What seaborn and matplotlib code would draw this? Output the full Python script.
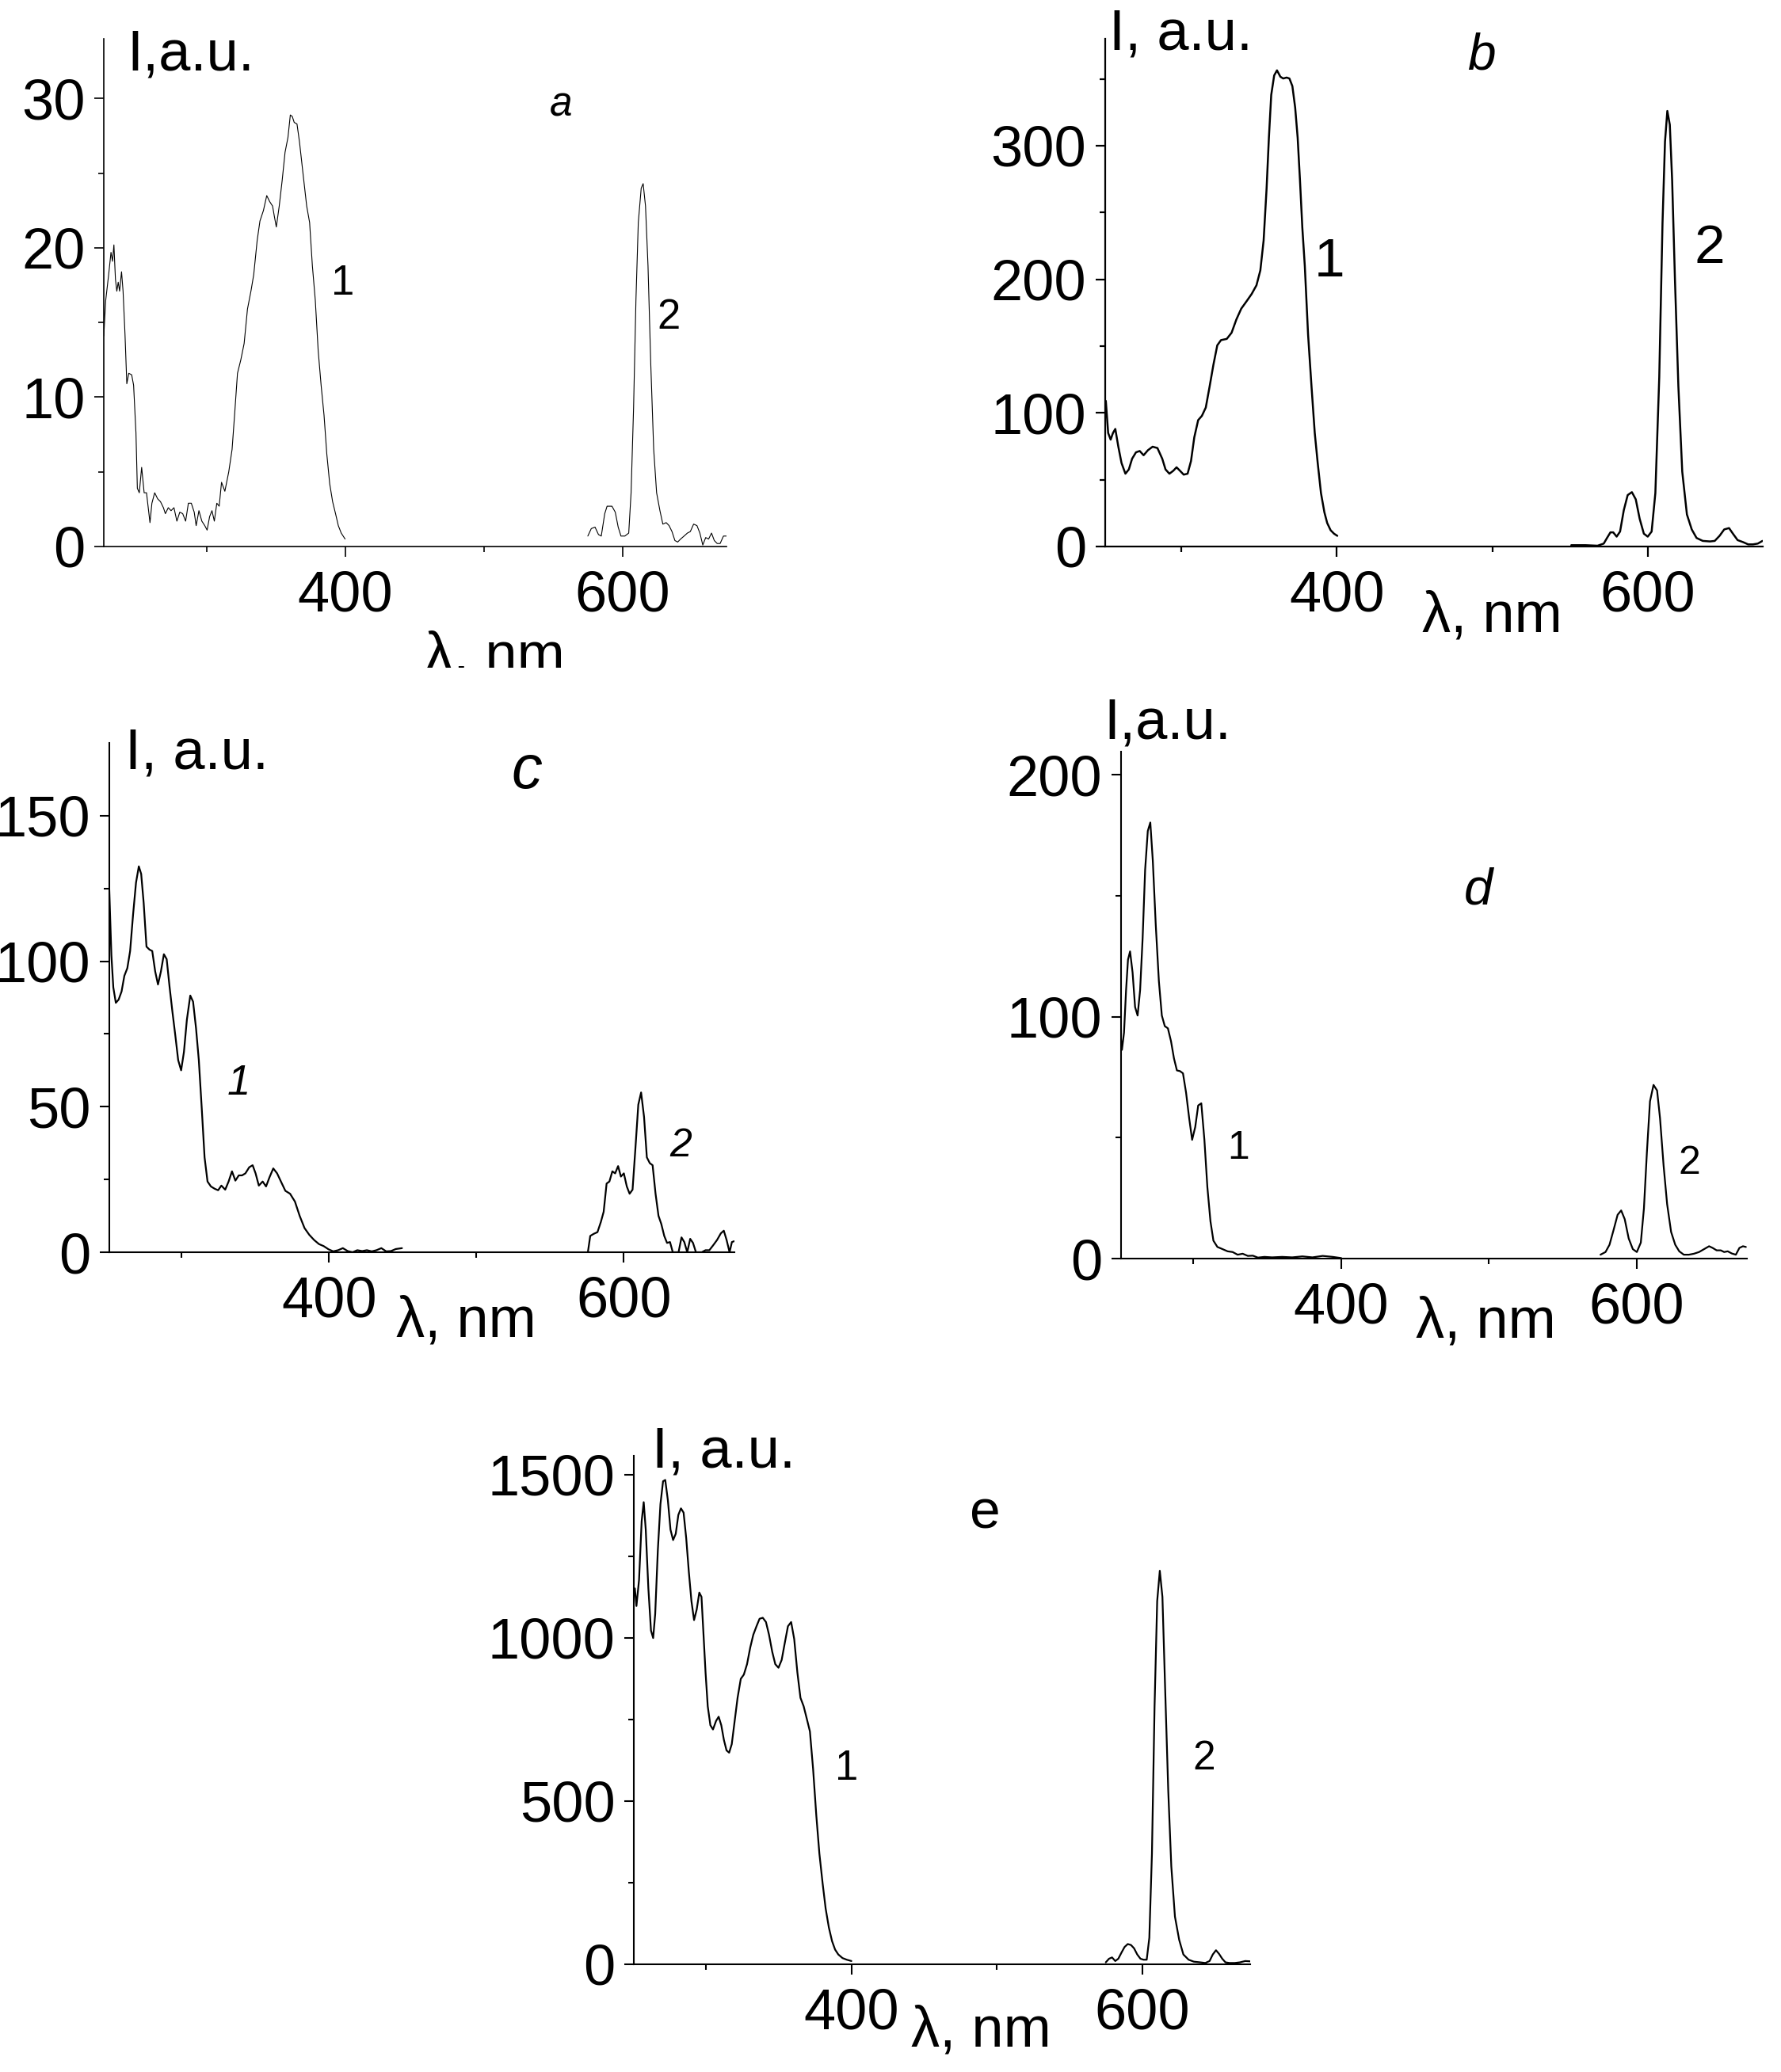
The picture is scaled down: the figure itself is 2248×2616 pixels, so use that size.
import matplotlib
matplotlib.use("Agg")
import matplotlib.pyplot as plt
import seaborn as sns
from matplotlib.transforms import Bbox, TransformedBbox

# ---- data (wavelength in nm, intensity in a.u.) ----
# panel a
a1_wl = [226, 227.4, 229.5, 231.2, 232.3, 233.3, 234.4, 235.4, 236.4, 237.4, 238.8, 239.9, 241.3, 242.6,
         244.0, 246.1, 247.5, 249.2, 250.2, 251.6, 253.3, 255.1, 256.8, 259.3, 260.7, 262.7, 264.8, 266.9,
         269.0, 270.4, 272.5, 274.5, 276.6, 278.7, 280.8, 282.9, 285.0, 287.0, 289.1, 291.2, 292.6, 294.6,
         296.7, 298.8, 300.5, 302.3, 304.0, 305.7, 307.5, 309.2, 310.9, 313.3, 316.1, 318.5, 320.3, 322.4,
         324.8, 327.2, 329.6, 332.1, 334.1, 336.6, 338.6, 341.1, 343.5, 345.6, 347.7, 349.0, 350.4, 352.5,
         354.6, 356.7, 358.8, 360.5, 361.9, 363.3, 365.3, 367.1, 369.5, 372.3, 374.4, 376.4, 378.5, 380.6,
         382.7, 384.8, 386.8, 388.9, 391.0, 393.1, 395.1, 397.2, 400.0]
a1_int = [14.1, 16.5, 18.2, 19.7, 19.1, 20.2, 17.9, 17.1, 17.7, 17.1, 18.4, 17.1, 14.2, 10.9,
          11.6, 11.5, 10.8, 7.6, 3.9, 3.6, 5.3, 3.6, 3.6, 1.6, 2.9, 3.6, 3.2, 3.0,
          2.6, 2.2, 2.6, 2.4, 2.6, 1.7, 2.3, 2.2, 1.7, 2.9, 2.9, 2.3, 1.4, 2.4,
          1.7, 1.4, 1.1, 2.0, 2.4, 1.7, 2.9, 2.7, 4.3, 3.7, 5.0, 6.5, 8.8, 11.6,
          12.5, 13.6, 15.9, 17.1, 18.2, 20.5, 21.8, 22.5, 23.5, 23.1, 22.8, 22.1, 21.4, 22.8,
          24.5, 26.4, 27.4, 28.9, 28.8, 28.4, 28.3, 27.1, 25.1, 22.8, 21.7, 18.8, 16.5, 13.1,
          10.8, 8.8, 6.2, 4.2, 3.0, 2.2, 1.4, 0.9, 0.5]
a2_wl = [575.0, 577.5, 580.2, 582.7, 584.7, 587.2, 588.9, 592.4, 594.8, 596.9, 598.9, 601.7, 604.5,
         606.2, 608.0, 609.7, 611.4, 613.5, 614.9, 616.6, 618.4, 620.4, 622.5, 624.6, 627.0, 629.1,
         631.5, 633.6, 635.7, 637.8, 639.8, 641.9, 644.4, 646.8, 648.9, 651.3, 653.7, 655.8, 657.9,
         660.0, 662.1, 664.2, 666.2, 668.3, 670.4, 672.8, 674.9]
a2_int = [0.7, 1.2, 1.3, 0.8, 0.7, 2.2, 2.7, 2.7, 2.3, 1.3, 0.7, 0.7, 0.9,
          3.6, 9.3, 16.5, 21.7, 24.0, 24.3, 22.8, 18.8, 12.2, 6.5, 3.6, 2.4, 1.5,
          1.6, 1.4, 1.0, 0.4, 0.3, 0.5, 0.7, 0.9, 1.0, 1.5, 1.4, 0.9, 0.1,
          0.6, 0.5, 0.9, 0.4, 0.2, 0.2, 0.7, 0.7]

# panel b
b1_wl = [251.4, 252.9, 254.5, 256.0, 257.5, 259.4, 261.5, 264.0, 266.2, 268.3, 270.8, 273.2, 275.7,
         278.5, 281.5, 284.6, 287.7, 289.8, 292.3, 294.8, 296.9, 299.1, 301.5, 304.0, 306.2, 308.3,
         310.8, 313.2, 315.7, 318.2, 320.6, 323.1, 325.5, 329.2, 332.3, 335.4, 338.5, 342.2, 345.2,
         348.3, 350.8, 352.9, 354.8, 356.3, 357.8, 359.7, 361.5, 363.7, 365.5, 367.7, 369.5, 371.4,
         373.2, 374.8, 376.3, 377.8, 379.4, 381.5, 383.7, 385.8, 387.7, 389.8, 392.0, 393.8, 396.0,
         398.2, 400.3]
b1_int = [109, 85, 80, 85, 88, 75, 62.5, 54.5, 57.7, 65.7, 70.5, 71.5, 68.3,
          72.1, 74.7, 73.7, 65.7, 57.7, 54.5, 56.7, 59.3, 56.7, 53.8, 54.5, 64, 81.7,
          94.6, 97.8, 104, 120, 136, 150.6, 154.5, 155.4, 160, 170, 178, 184, 189,
          195.5, 206.7, 229, 267.6, 306, 338, 352.6, 356.4, 351.6, 350.3, 351, 350.3, 344.6,
          328.5, 306, 274, 238.8, 210, 158.7, 120, 85, 62.5, 40, 25.6, 17.6, 12.2,
          9.6, 8.0]
b2_wl = [550.8, 560.0, 567.7, 571.7, 573.8, 576.0, 577.8, 580.0, 582.2, 584.6, 587.1, 589.8, 592.3,
         594.8, 597.5, 600.0, 602.5, 604.9, 607.4, 609.5, 611.1, 612.6, 614.2, 615.7, 617.5, 619.7,
         622.2, 625.2, 628.3, 631.4, 635.4, 640.0, 643.1, 646.2, 649.2, 652.3, 654.8, 657.8, 661.5,
         664.6, 667.7, 670.8, 673.8]
b2_int = [1, 1, 0.6, 2.2, 6.4, 10.6, 10.6, 7.4, 11.2, 27.2, 38.5, 40.7, 35.3,
          20.8, 9.6, 7.4, 11.2, 40, 126.6, 242, 303, 326, 315.7, 274, 200, 120,
          56, 24, 12.8, 6.4, 4.2, 3.8, 4.2, 8.0, 12.8, 13.8, 9.6, 4.8, 3.2,
          1.6, 1.6, 2.2, 4.2]

# panel c
c1_wl = [250.8, 251.5, 252.4, 253.7, 255.4, 257.3, 259.3, 261.2, 263.2, 265.1, 267.1, 269.1, 271.0,
         272.6, 274.3, 276.2, 278.2, 280.1, 282.1, 284.0, 286.0, 288.0, 289.9, 291.9, 293.8, 295.8,
         297.7, 299.7, 301.6, 303.6, 305.9, 307.8, 309.8, 311.7, 313.7, 315.6, 317.6, 319.9, 322.5,
         324.8, 327.0, 329.6, 331.9, 334.2, 336.5, 338.8, 341.0, 343.3, 345.9, 348.2, 350.2, 352.4,
         355.0, 357.3, 359.6, 362.2, 364.8, 367.4, 370.4, 373.6, 376.9, 380.1, 383.4, 386.6, 389.9,
         393.2, 396.4, 399.7, 402.9, 406.2, 409.4, 412.7, 416.0, 419.2, 422.5, 425.7, 429.0, 432.2,
         435.5, 438.8, 442.0, 445.3, 449.5]
c1_int = [127, 116, 102, 91, 85.7, 86.8, 89.6, 95, 97.6, 103.5, 116, 127, 132.6,
          130, 120, 105, 104, 103.5, 96.5, 92, 96.5, 102.4, 100.7, 91, 82.6, 74.3,
          66, 62.5, 68.8, 79.9, 88.2, 86.1, 77, 66, 49.3, 32.6, 24.3, 22.6, 21.8,
          21.3, 22.9, 21.5, 24.3, 27.8, 24.6, 26.4, 26.4, 27.1, 29.2, 29.9, 27.1, 22.9,
          24.3, 22.6, 25.7, 28.8, 27.1, 24.3, 21.1, 20.1, 17.4, 12.5, 8.3, 6.0, 4.2,
          2.8, 2.1, 1.0, 0.3, 0.7, 1.4, 0.4, 0, 0.7, 0.4, 0.7, 0.3, 0.7,
          1.4, 0.3, 0.4, 1.1, 1.4]
c2_wl = [575.6, 577.2, 579.5, 582.1, 584.4, 586.3, 588.3, 590.2, 592.2, 594.1, 596.1, 598.0, 600.0,
         602.0, 603.9, 605.9, 607.8, 609.8, 611.7, 613.7, 615.6, 617.6, 619.5, 621.5, 623.5, 625.4,
         627.4, 629.3, 631.3, 633.2, 635.2, 637.1, 639.1, 641.0, 643.0, 645.0, 646.9, 648.9, 650.8,
         652.8, 655.4, 658.0, 660.6, 663.2, 665.8, 667.8, 669.7, 671.7, 673.3, 674.9]
c2_int = [0, 5.6, 6.3, 6.9, 10.4, 13.9, 23.6, 24.3, 27.8, 27.1, 29.6, 26, 27.1,
          22.6, 20.1, 21.5, 35.4, 50.7, 54.9, 46.5, 32.6, 30.6, 29.9, 20.1, 12.5, 9.7,
          5.6, 3.2, 3.5, 0, 0, 0, 5.1, 3.5, 0, 4.6, 3.2, 0, 0,
          0, 0.7, 0.7, 2.4, 4.2, 6.5, 7.4, 4.2, 0, 3.5, 3.8]

# panel d
d1_wl = [250.6, 251.6, 253.0, 254.4, 255.7, 257.1, 258.8, 260.5, 262.2, 263.9, 265.6, 267.3, 269.1,
         270.8, 272.5, 274.5, 276.6, 278.6, 280.6, 282.7, 284.8, 286.8, 288.8, 290.9, 292.9, 295.0,
         297.1, 299.1, 301.2, 303.2, 305.3, 307.4, 309.4, 311.5, 313.5, 316.2, 319.7, 323.1, 326.5,
         329.9, 333.3, 336.8, 340.2, 343.6, 348.0, 353.2, 360.0, 366.8, 373.7, 380.5, 387.4, 394.2,
         400.0]
d1_int = [93.4, 86.3, 93.4, 111, 123.6, 127, 118.3, 104, 100.5, 111, 132.4, 160.8, 176.8,
          180.3, 164.4, 137.8, 114.7, 100.5, 96.1, 95.2, 89.9, 82.8, 77.8, 77.5, 76.6, 68.6,
          58, 49.1, 54.4, 63.3, 64.2, 49.1, 29.6, 15.4, 7.4, 4.8, 3.9, 3.0, 2.7,
          1.6, 2.0, 1.1, 1.2, 0.4, 0.7, 0.5, 0.7, 0.5, 0.9, 0.5, 1.1, 0.7,
          0.2]
d2_wl = [575.4, 578.8, 581.5, 584.3, 587.0, 589.4, 591.8, 594.5, 597.3, 600.0, 602.7, 604.8, 606.8,
         608.9, 611.3, 613.7, 615.7, 618.1, 620.5, 623.2, 626.0, 628.7, 631.8, 635.2, 638.6, 642.1,
         645.5, 648.9, 651.3, 654.0, 656.8, 659.1, 661.5, 664.3, 667.0, 669.4, 671.8, 673.8]
d2_int = [1.6, 2.7, 5.7, 11.9, 18.1, 19.9, 16.3, 8.3, 3.9, 2.7, 6.6, 20.7, 43.8,
          65, 71.8, 69.5, 58, 38.5, 22.5, 11, 5.7, 3, 1.6, 1.6, 2.0, 2.7,
          3.9, 5.1, 4.4, 3.4, 3.4, 2.7, 3.0, 2.1, 1.6, 4.4, 5.1, 4.8]

# panel e
e1_wl = [251.2, 252.3, 254.1, 255.9, 257.3, 258.7, 260.5, 262.3, 263.8, 265.2, 267.0, 268.8, 270.6,
         272.1, 273.9, 275.7, 277.5, 279.3, 281.1, 282.9, 284.7, 286.5, 288.3, 290.1, 291.9, 293.7,
         295.5, 297.0, 298.4, 299.8, 301.3, 303.1, 304.9, 307.0, 308.8, 310.6, 312.4, 314.2, 316.0,
         317.8, 319.6, 321.8, 324.0, 326.1, 328.3, 330.5, 332.6, 334.8, 336.9, 339.1, 341.3, 343.4,
         345.6, 347.7, 349.9, 352.1, 354.2, 356.4, 358.6, 360.7, 362.9, 365.0, 367.2, 369.4, 371.5,
         373.7, 375.9, 378.0, 380.2, 382.3, 384.5, 386.7, 388.8, 391.0, 393.9, 396.8, 400.0]
e1_int = [1151, 1097, 1177, 1357, 1415, 1331, 1151, 1022, 999, 1073, 1267, 1409, 1479,
          1483, 1421, 1331, 1299, 1318, 1376, 1396, 1383, 1305, 1202, 1112, 1054, 1086,
          1138, 1125, 1009, 893, 790, 732, 719, 745, 758, 732, 687, 655, 648,
          674, 738, 816, 874, 887, 919, 970, 1009, 1035, 1058, 1061, 1048, 1009,
          957, 919, 908, 932, 983, 1035, 1048, 996, 893, 816, 790, 751, 713,
          597, 455, 339, 249, 171, 113, 71, 45, 30, 19, 14, 10]
e2_wl = [574.8, 577.0, 579.1, 581.3, 583.4, 585.6, 587.7, 589.9, 592.1, 594.2, 596.4, 598.6, 600.7,
         602.9, 604.7, 606.5, 608.3, 610.1, 611.9, 613.7, 615.5, 617.7, 619.8, 622.3, 625.2, 628.1,
         631.7, 635.3, 639.6, 643.2, 646.1, 648.3, 650.5, 652.6, 654.8, 657.0, 659.8, 663.4, 667.0,
         670.6, 674.2]
e2_int = [6, 17, 21, 10, 17, 36, 53, 62, 59, 49, 30, 17, 14,
          14, 81, 339, 790, 1112, 1205, 1125, 854, 532, 300, 146, 75, 30,
          14, 8, 6, 4, 10, 30, 43, 32, 17, 6, 4, 4, 6,
          10, 9]

W, H = 2248, 2616

sns.set_style("ticks", {"axes.edgecolor": "black", "text.color": "black",
                        "xtick.color": "black", "ytick.color": "black",
                        "axes.labelcolor": "black"})
plt.rcParams["font.family"] = ["Liberation Sans", "DejaVu Sans"]

fig = plt.figure(figsize=(W / 100, H / 100), dpi=100)


def px_axes(left, top, right, bottom):
    # axes placed from pixel edges of the reference
    return fig.add_axes([left / W, 1 - bottom / H, (right - left) / W, (bottom - top) / H])


def style_axes(ax, xlim, ylim, yticks, yminor, lw_axis):
    ax.set_xlim(*xlim)
    ax.set_ylim(*ylim)
    ax.set_xticks([400, 600])
    ax.set_xticks([300, 500], minor=True)
    ax.set_yticks(yticks)
    ax.set_yticks(yminor, minor=True)
    ax.set_xlabel("")
    ax.set_ylabel("")
    sns.despine(ax=ax)
    for s in ["left", "bottom"]:
        ax.spines[s].set_linewidth(lw_axis)
        ax.spines[s].set_color("black")
    ax.tick_params(which="major", length=9, width=lw_axis, labelsize=52, color="black",
                   labelcolor="black")
    ax.tick_params(axis="x", which="major", pad=12)
    ax.tick_params(axis="y", which="major", pad=8)
    ax.tick_params(which="minor", length=5, width=lw_axis, color="black")


def ftext(x, y, s, **kw):
    return fig.text(x / W, 1 - y / H, s, color="black", **kw)


panels = [
    # (edges, xlim, ylim, yticks, yminor, curves, line width, axis width)
    ((131, 49, 917, 690), (226, 675), (0, 34), [0, 10, 20, 30], [5, 15, 25],
     [(a1_wl, a1_int), (a2_wl, a2_int)], 0.8, 1.2),
    ((1395, 49, 2225, 690), (251, 674), (0, 380), [0, 100, 200, 300], [50, 150, 250, 350],
     [(b1_wl, b1_int), (b2_wl, b2_int)], 1.8, 1.6),
    ((138, 938, 927, 1581), (251, 675), (0, 175), [0, 50, 100, 150], [25, 75, 125],
     [(c1_wl, c1_int), (c2_wl, c2_int)], 1.6, 1.5),
    ((1415, 949, 2205, 1589), (251, 674.5), (0, 209.6), [0, 100, 200], [50, 150],
     [(d1_wl, d1_int), (d2_wl, d2_int)], 1.6, 1.5),
    ((800, 1838, 1578, 2480), (250.5, 674), (0, 1557), [0, 500, 1000, 1500], [250, 750, 1250],
     [(e1_wl, e1_int), (e2_wl, e2_int)], 1.6, 1.5),
]

for edges, xlim, ylim, yt, ym, curves, lw, lwa in panels:
    ax = px_axes(*edges)
    for wl, inten in curves:
        sns.lineplot(x=wl, y=inten, ax=ax, color="black", linewidth=lw, sort=False, estimator=None)
    style_axes(ax, xlim, ylim, yt, ym, lwa)

# y-axis captions
ftext(160, 36, "I,a.u.", fontsize=52, ha="left", va="top")
ftext(1400, 11, "I, a.u.", fontsize=52, ha="left", va="top")
ftext(158, 918, "I, a.u.", fontsize=52, ha="left", va="top")
ftext(1393, 880, "I,a.u.", fontsize=52, ha="left", va="top")
ftext(823, 1801, "I, a.u.", fontsize=52, ha="left", va="top")

# x-axis captions
t = ftext(624, 830, "λ, nm", fontsize=52, ha="center", va="center")
t.set_clip_box(TransformedBbox(Bbox([[0, 1 - 843 / H], [1, 1]]), fig.transFigure))
t.set_clip_on(True)
ftext(1883, 779, "λ, nm", fontsize=52, ha="center", va="center")
ftext(588, 1669, "λ, nm", fontsize=52, ha="center", va="center")
ftext(1875, 1670, "λ, nm", fontsize=52, ha="center", va="center")
ftext(1238, 2565, "λ, nm", fontsize=52, ha="center", va="center")

# panel letters
ftext(708, 133, "a", fontsize=37, style="italic", ha="center", va="center")
ftext(1870, 70, "b", fontsize=46, style="italic", ha="center", va="center")
ftext(665, 974, "c", fontsize=56, style="italic", ha="center", va="center")
ftext(1866, 1124, "d", fontsize=47, style="italic", ha="center", va="center")
ftext(1243, 1912, "e", fontsize=50, ha="center", va="center")

# curve numbers
ftext(433, 358, "1", fontsize=38, ha="center", va="center")
ftext(844, 401, "2", fontsize=38, ha="center", va="center")
ftext(1678, 331, "1", fontsize=50, ha="center", va="center")
ftext(2158, 314, "2", fontsize=50, ha="center", va="center")
ftext(301, 1368, "1", fontsize=38, style="italic", ha="center", va="center")
ftext(859, 1447, "2", fontsize=36, style="italic", ha="center", va="center")
ftext(1563, 1450, "1", fontsize=36, ha="center", va="center")
ftext(2132, 1469, "2", fontsize=36, ha="center", va="center")
ftext(1069, 2233, "1", fontsize=38, ha="center", va="center")
ftext(1520, 2220, "2", fontsize=37, ha="center", va="center")

fig.savefig("out.png", dpi=100, facecolor="white")
